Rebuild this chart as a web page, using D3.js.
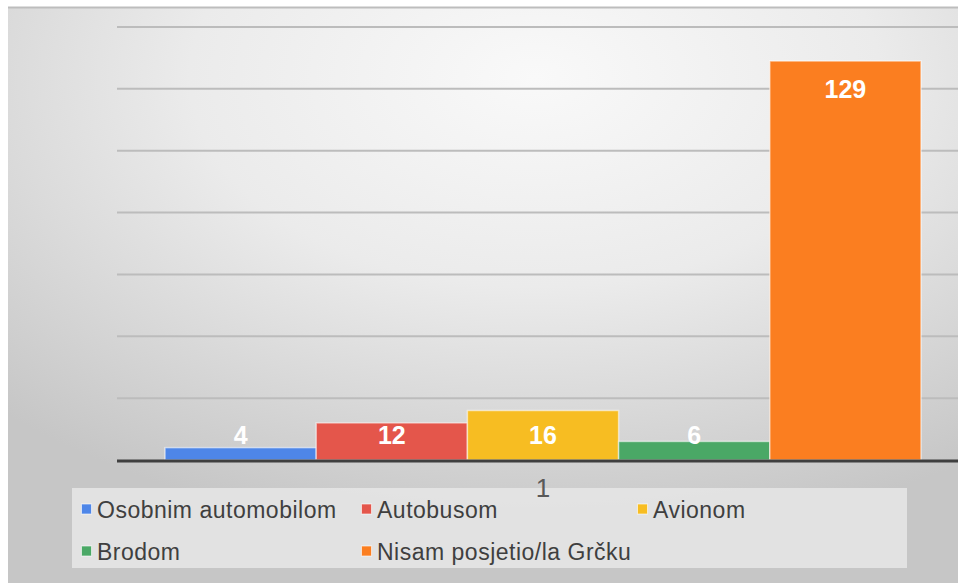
<!DOCTYPE html>
<html>
<head>
<meta charset="utf-8">
<script src="https://cdn.jsdelivr.net/npm/d3@7"></script>
<style>
  html, body { margin: 0; padding: 0; background: #fff; }
  svg { display: block; overflow: hidden; }
</style>
</head>
<body>
<div id="chart"></div>
<script>
// data
const categories = ['1'];
const series = ['Osobnim automobilom', 'Autobusom', 'Avionom', 'Brodom', 'Nisam posjetio/la Grčku'];
const values = [4, 12, 16, 6, 129];
const colors = ['#4e86e8', '#e4564b', '#f7bd22', '#4aa866', '#fb7e20'];
const yTicks = [0, 20, 40, 60, 80, 100, 120, 140];

// layout
const width = 958, height = 583;
const plot = {left: 117, right: 969, top: 27, bottom: 460};
const font = '"Liberation Sans", Arial, sans-serif';

let svg = d3.select('#chart').append('svg')
  .attr('width', width)
  .attr('height', height);

let defs = svg.append('defs');
let grad = defs.append('radialGradient')
  .attr('id', 'bg')
  .attr('cx', '55%').attr('cy', '12%')
  .attr('r', '80%');
grad.append('stop').attr('offset', '0%').attr('stop-color', '#f9f9f9');
grad.append('stop').attr('offset', '45%').attr('stop-color', '#ebebeb');
grad.append('stop').attr('offset', '100%').attr('stop-color', '#c6c6c6');

// frame
svg.append('rect')
  .attr('x', 8).attr('y', 7)
  .attr('width', width).attr('height', height)
  .attr('fill', 'url(#bg)');
svg.append('line')
  .attr('x1', 8).attr('x2', width)
  .attr('y1', 7.5).attr('y2', 7.5)
  .attr('stroke', '#bdbdbd')
  .attr('stroke-width', 2);

// scales
let y = d3.scaleLinear()
  .domain([0, 140])
  .range([plot.bottom, plot.top]);

let x0 = d3.scaleBand()
  .domain(categories)
  .range([plot.left, plot.right])
  .paddingInner(0)
  .paddingOuter(0.0635);

let x1 = d3.scaleBand()
  .domain(series)
  .range([0, x0.bandwidth()]);

// gridlines
svg.append('g')
  .selectAll('line')
  .data(yTicks.filter(d => d > 0))
  .enter()
  .append('line')
  .attr('x1', plot.left).attr('x2', width)
  .attr('y1', d => y(d)).attr('y2', d => y(d))
  .attr('stroke', '#bcbcbc')
  .attr('stroke-width', 2);

// bars
let bars = svg.append('g')
  .selectAll('g')
  .data(categories)
  .enter()
  .append('g')
  .attr('transform', d => 'translate(' + x0(d) + ',0)');

let barData = series.map((s, i) => ({name: s, value: values[i], color: colors[i]}));

bars.selectAll('rect')
  .data(barData)
  .enter()
  .append('rect')
  .attr('x', d => x1(d.name))
  .attr('y', d => y(d.value))
  .attr('width', x1.bandwidth())
  .attr('height', d => y(0) - y(d.value))
  .attr('fill', d => d.color)
  .attr('stroke', 'rgba(255,255,255,0.55)')
  .attr('stroke-width', 1.5);

bars.selectAll('text')
  .data(barData)
  .enter()
  .append('text')
  .text(d => d.value)
  .attr('x', d => x1(d.name) + x1.bandwidth() / 2)
  .attr('y', d => Math.min(y(d.value) + 37, y(0) - 16))
  .attr('text-anchor', 'middle')
  .style('fill', '#ffffff')
  .style('font-family', font)
  .style('font-weight', 'bold')
  .style('font-size', '25px');

// baseline
svg.append('line')
  .attr('x1', plot.left).attr('x2', width)
  .attr('y1', y(0) + 1).attr('y2', y(0) + 1)
  .attr('stroke', '#3f3f3f')
  .attr('stroke-width', 3);

// legend
svg.append('rect')
  .attr('x', 72).attr('y', 488)
  .attr('width', 835).attr('height', 80)
  .attr('fill', '#e6e6e6')
  .attr('opacity', 0.85);

// category axis label
svg.append('g')
  .selectAll('text')
  .data(categories)
  .enter()
  .append('text')
  .text(d => d)
  .attr('x', d => x0(d) + x0.bandwidth() / 2)
  .attr('y', 497)
  .attr('text-anchor', 'middle')
  .style('fill', '#595959')
  .style('font-family', font)
  .style('font-size', '26px');

const legendCols = [81, 361, 637], legendRows = [518, 560];
let legend = svg.append('g')
  .selectAll('g')
  .data(barData)
  .enter()
  .append('g')
  .attr('transform', (d, i) => 'translate(' + legendCols[i % 3] + ',' + legendRows[Math.floor(i / 3)] + ')');

legend.append('rect')
  .attr('x', 0.5).attr('y', -14)
  .attr('width', 10).attr('height', 10)
  .attr('fill', d => d.color)
  .attr('stroke', 'rgba(255,255,255,0.6)')
  .attr('stroke-width', 1);

legend.append('text')
  .text(d => d.name)
  .attr('x', 16)
  .attr('y', 0)
  .style('fill', '#3f3f3f')
  .style('font-family', font)
  .style('font-size', '23px')
  .style('letter-spacing', '0.5px');
</script>
</body>
</html>
